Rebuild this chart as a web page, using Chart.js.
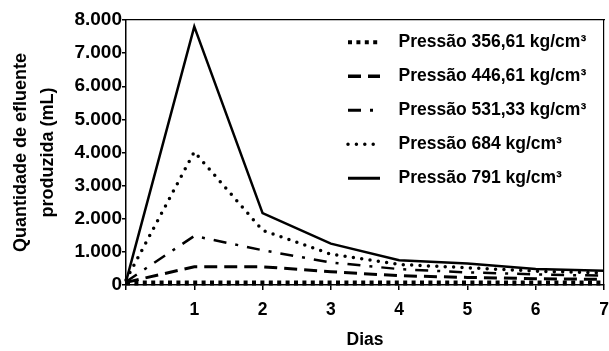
<!DOCTYPE html>
<html>
<head>
<meta charset="utf-8">
<script src="https://cdn.jsdelivr.net/npm/chart.js@4/dist/chart.umd.min.js"></script>
<style>
  html, body { margin: 0; padding: 0; background: #fff; }
  #wrap { width: 609px; height: 351px; position: relative; }
</style>
</head>
<body>
<div id="wrap"><canvas id="chart"></canvas></div>
<script>
const dias = [0, 1, 2, 3, 4, 5, 6, 7]
const seriesLabels = ['Pressão 356,61 kg/cm³', 'Pressão 446,61 kg/cm³', 'Pressão 531,33 kg/cm³', 'Pressão 684 kg/cm³', 'Pressão 791 kg/cm³']
const p356 = [60, 60, 60, 60, 60, 60, 60, 60]
const p446 = [80, 550, 550, 400, 280, 230, 190, 170]
const p531 = [100, 1480, 1050, 680, 480, 380, 320, 280]
const p684 = [150, 4020, 1650, 930, 620, 520, 420, 360]
const p791 = [100, 7800, 2170, 1250, 750, 650, 480, 430]
const yTicks = [0, 1000, 2000, 3000, 4000, 5000, 6000, 7000, 8000]

const FONT = '"Liberation Sans", Arial, sans-serif'

const toPoints = vals => vals.map((v, i) => ({ x: dias[i], y: v }))

const styles = [
    { borderWidth: 5, borderDash: [4, 4.4], borderCapStyle: 'butt' },
    { borderWidth: 3, borderDash: [13, 7], borderCapStyle: 'butt' },
    { borderWidth: 2.5, borderDash: [13, 9, 3, 9], borderCapStyle: 'butt' },
    { borderWidth: 3.5, borderDash: [0, 8.4], borderCapStyle: 'round' },
    { borderWidth: 2.5, borderDash: [], borderCapStyle: 'butt' }
]
const legendWidths = [4, 3.5, 3, 3.5, 3]
const values = [p356, p446, p531, p684, p791]

const datasets = values.map((vals, i) => ({
    label: seriesLabels[i],
    data: toPoints(vals),
    borderColor: '#000',
    backgroundColor: '#000',
    pointRadius: 0,
    pointStyle: 'line',
    tension: 0,
    clip: 8,
    ...styles[i]
}))

// move the legend inside the plot, upper right
const legendSpot = {
    id: 'legendSpot',
    afterUpdate(chart) {
        const lg = chart.legend
        const pad = lg.options.labels.padding
        lg.left = 348 - pad
        lg.top = 42 - 8.5 - pad
        lg.right = 609
        lg.bottom = 351
        lg.width = lg.right - lg.left
        lg.height = lg.bottom - lg.top
        lg.adjustHitBoxes()
    }
}

new Chart(document.getElementById('chart'), {
    type: 'line',
    data: { datasets },
    options: {
        responsive: true,
        maintainAspectRatio: false,
        animation: false,
        layout: { padding: { left: 0, top: 20, right: 5, bottom: 0 } },
        plugins: {
            tooltip: { enabled: false },
            legend: {
                position: 'chartArea',
                align: 'start',
                labels: {
                    usePointStyle: true,
                    pointStyleWidth: 32,
                    boxHeight: 17,
                    padding: 16.5,
                    color: '#000',
                    font: { family: FONT, size: 17.5, weight: 'bold' },
                    generateLabels: chart => Chart.defaults.plugins.legend.labels.generateLabels(chart)
                        .map(l => {
                            const st = styles[l.datasetIndex]
                            l.text = '  ' + l.text
                            l.lineDash = st.borderDash
                            l.lineCap = st.borderCapStyle
                            l.lineWidth = legendWidths[l.datasetIndex]
                            l.strokeStyle = '#000'
                            return l
                        })
                }
            }
        },
        scales: {
            x: {
                type: 'linear',
                min: 0,
                max: 7,
                afterBuildTicks: s => { s.ticks = dias.map(v => ({ value: v })) },
                afterFit: s => { s.height = 66; s.paddingRight = 0; s.paddingLeft = 0 },
                border: { color: '#000', width: 1.5 },
                grid: { drawOnChartArea: false, color: '#000', lineWidth: 1.5, tickLength: 5 },
                ticks: {
                    padding: 10,
                    color: '#000',
                    font: { family: FONT, size: 17.5, weight: 'bold' },
                    callback: v => v === 0 ? '' : String(v)
                },
                title: {
                    display: true,
                    text: 'Dias',
                    color: '#000',
                    padding: { top: 0, bottom: 0 },
                    font: { family: FONT, size: 17.5, weight: 'bold' }
                }
            },
            y: {
                min: 0,
                max: 8000,
                afterBuildTicks: s => { s.ticks = yTicks.map(v => ({ value: v })) },
                afterFit: s => { s.width = 126 },
                border: { color: '#000', width: 1.5 },
                grid: { drawOnChartArea: false, color: '#000', lineWidth: 1.5, tickLength: 4 },
                ticks: {
                    padding: 0,
                    color: '#000',
                    font: { family: FONT, size: 19, weight: 'bold' },
                    callback: v => v === 0 ? '0' : (v / 1000).toFixed(3)
                },
                title: {
                    display: true,
                    text: ['Quantidade de efluente', 'produzida (mL)'],
                    color: '#000',
                    padding: { top: 8, bottom: 0 },
                    font: { family: FONT, size: 18, weight: 'bold', lineHeight: 1.5 }
                }
            },
            xTop: {
                type: 'linear',
                position: 'top',
                min: 0,
                max: 7,
                afterFit: s => { s.height = 0 },
                border: { color: '#000', width: 1.2 },
                grid: { drawOnChartArea: false, drawTicks: false },
                ticks: { display: false }
            },
            yRight: {
                type: 'linear',
                position: 'right',
                min: 0,
                max: 8000,
                afterFit: s => { s.width = 0 },
                border: { color: '#000', width: 1.2 },
                grid: { drawOnChartArea: false, drawTicks: false },
                ticks: { display: false }
            }
        }
    },
    plugins: [legendSpot]
})
</script>
</body>
</html>
